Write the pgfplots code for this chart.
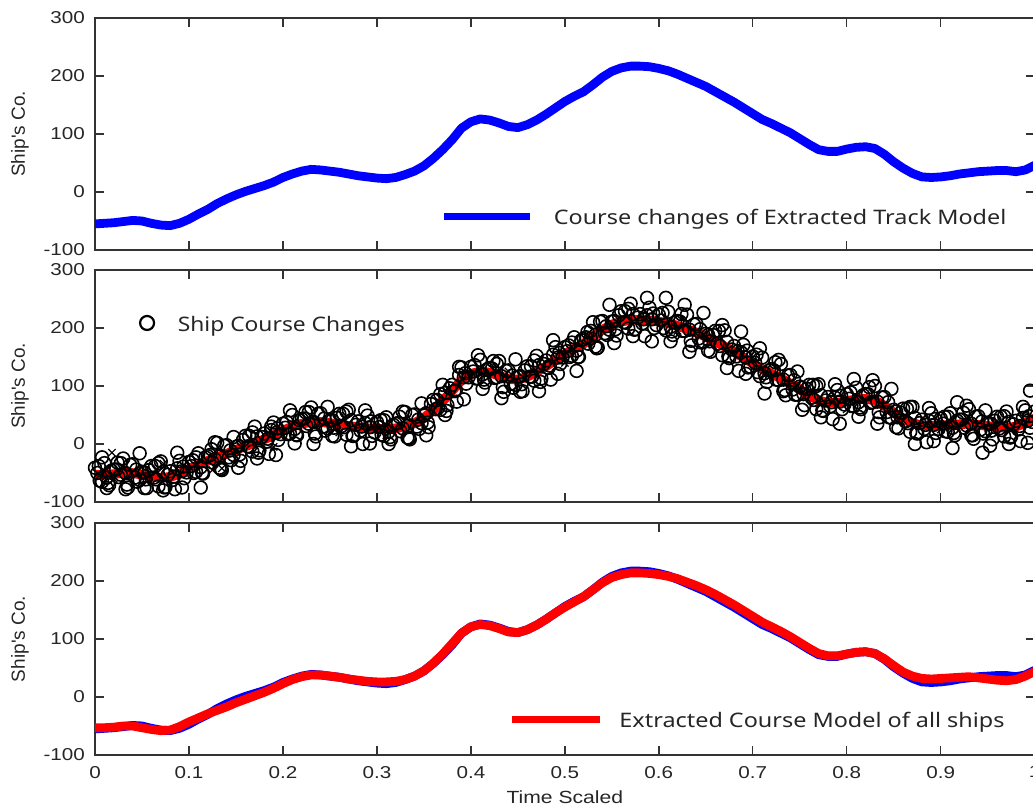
\documentclass[border=0pt]{standalone}
\usepackage{pgfplots}
\pgfplotsset{compat=1.18}
\usepackage{pgfplotstable}
\usepackage{graphicx}
\usepackage{fontspec}
\setmainfont{Liberation Sans}
\newfontfamily\legfont{Noto Sans}

\pgfplotstableread[row sep=\\]{
x y\\
0.00 -55\\ 0.01 -54\\ 0.02 -53\\ 0.03 -51\\ 0.04 -49\\ 0.05 -50\\ 0.06 -54\\ 0.07 -57\\ 0.08 -58\\ 0.09 -54\\
0.10 -47\\ 0.11 -38\\ 0.12 -30\\ 0.13 -20\\ 0.14 -12\\ 0.15 -5\\ 0.16 1\\ 0.17 6\\ 0.18 11\\ 0.19 17\\
0.20 25\\ 0.21 31\\ 0.22 36\\ 0.23 39\\ 0.24 38\\ 0.25 36\\ 0.26 34\\ 0.27 31\\ 0.28 28\\ 0.29 26\\
0.30 24\\ 0.31 23\\ 0.32 25\\ 0.33 30\\ 0.34 36\\ 0.35 45\\ 0.36 58\\ 0.37 73\\ 0.38 90\\ 0.39 110\\
0.40 121\\ 0.41 126\\ 0.42 124\\ 0.43 119\\ 0.44 113\\ 0.45 111\\ 0.46 116\\ 0.47 124\\ 0.48 134\\ 0.49 145\\
0.50 156\\ 0.51 165\\ 0.52 173\\ 0.53 185\\ 0.54 198\\ 0.55 208\\ 0.56 214\\ 0.57 217\\ 0.58 217\\ 0.59 216\\
0.60 213\\ 0.61 209\\ 0.62 203\\ 0.63 196\\ 0.64 189\\ 0.65 182\\ 0.66 173\\ 0.67 164\\ 0.68 155\\ 0.69 145\\
0.70 135\\ 0.71 125\\ 0.72 118\\ 0.73 110\\ 0.74 102\\ 0.75 92\\ 0.76 82\\ 0.77 73\\ 0.78 70\\ 0.79 70\\
0.80 74\\ 0.81 77\\ 0.82 78\\ 0.83 75\\ 0.84 65\\ 0.85 52\\ 0.86 41\\ 0.87 32\\ 0.88 26\\ 0.89 25\\
0.90 26\\ 0.91 28\\ 0.92 31\\ 0.93 33\\ 0.94 35\\ 0.95 36\\ 0.96 37\\ 0.97 37\\ 0.98 35\\ 0.99 38\\
1.00 46\\
}\bluedata

\pgfplotstableread[row sep=\\]{
x y\\
0.00 -53\\ 0.01 -53\\ 0.02 -52\\ 0.03 -50\\ 0.04 -50\\ 0.05 -53\\ 0.06 -56\\ 0.07 -58\\ 0.08 -57\\ 0.09 -51\\
0.10 -43\\ 0.11 -36\\ 0.12 -29\\ 0.13 -23\\ 0.14 -17\\ 0.15 -10\\ 0.16 -4\\ 0.17 2\\ 0.18 8\\ 0.19 15\\
0.20 23\\ 0.21 30\\ 0.22 35\\ 0.23 38\\ 0.24 38\\ 0.25 36\\ 0.26 34\\ 0.27 31\\ 0.28 29\\ 0.29 27\\
0.30 26\\ 0.31 26\\ 0.32 27\\ 0.33 30\\ 0.34 36\\ 0.35 45\\ 0.36 58\\ 0.37 74\\ 0.38 92\\ 0.39 110\\
0.40 121\\ 0.41 125\\ 0.42 123\\ 0.43 118\\ 0.44 112\\ 0.45 111\\ 0.46 116\\ 0.47 124\\ 0.48 134\\ 0.49 145\\
0.50 155\\ 0.51 164\\ 0.52 173\\ 0.53 185\\ 0.54 197\\ 0.55 206\\ 0.56 211\\ 0.57 214\\ 0.58 214\\ 0.59 213\\
0.60 211\\ 0.61 208\\ 0.62 204\\ 0.63 198\\ 0.64 192\\ 0.65 185\\ 0.66 177\\ 0.67 168\\ 0.68 159\\ 0.69 149\\
0.70 139\\ 0.71 129\\ 0.72 121\\ 0.73 113\\ 0.74 104\\ 0.75 94\\ 0.76 84\\ 0.77 75\\ 0.78 71\\ 0.79 71\\
0.80 74\\ 0.81 77\\ 0.82 78\\ 0.83 75\\ 0.84 66\\ 0.85 54\\ 0.86 43\\ 0.87 36\\ 0.88 32\\ 0.89 31\\
0.90 32\\ 0.91 33\\ 0.92 34\\ 0.93 35\\ 0.94 33\\ 0.95 31\\ 0.96 29\\ 0.97 28\\ 0.98 30\\ 0.99 36\\
1.00 44\\
}\reddata

\pgfplotsset{
  panel/.style={
    scale only axis, width=469.85pt, height=116pt,
    anchor=south west,
    xmin=0, xmax=1, ymin=-100, ymax=300,
    xtick={0,0.1,0.2,0.3,0.4,0.5,0.6,0.7,0.8,0.9,1},
    ytick={-100,0,100,200,300},
    tick align=inside, major tick length=4.5pt,
    every tick/.style={line width=0.7pt, black!80},
    axis line style={line width=0.75pt, black!80},
    /pgf/number format/assume math mode=true,
    yticklabel={\scalebox{1.2}[1]{\pgfmathprintnumber{\tick}}},
    yticklabel style={font=\fontsize{8.6}{10}\selectfont, text=black!85, xshift=-1.5pt},
    xticklabel style={font=\fontsize{8.6}{10}\selectfont, text=black!85, yshift=-2pt},
    ylabel={Ship\textquotesingle s Co.},
    every axis y label/.style={at={(axis description cs:-0.0798,0.5)}, rotate=90, anchor=center,
      font=\fontsize{9.5}{11}\selectfont, text=black!85},
    legend style={draw=none, fill=none, inner sep=0pt, outer sep=0pt,
      font=\fontsize{10}{12}\legfont, text=black!85},
    legend cell align=left,
    clip marker paths=false,
  },
  pts/.style={only marks, mark=o, mark size=3.2pt, mark options={line width=0.8pt, black}, forget plot},
}

\begin{document}
\begin{tikzpicture}
% ---------- panel 1
\begin{axis}[panel, at={(47.5pt,279pt)}, xticklabels={,,},
  legend style={at={(0.368,0.136)}, anchor=west},
  legend image code/.code={\draw[blue, line width=3.6pt] (0pt,1pt) -- (43pt,1pt); \path (50.5pt,1pt);}]
\addplot[blue, line width=4.4pt, line join=round] table[x=x,y=y] {\bluedata};
\addlegendentry{\scalebox{1.17}[1]{Course changes of Extracted Track Model}}
\end{axis}
% ---------- panel 2
\begin{axis}[panel, at={(47.5pt,153pt)}, xticklabels={,,},
  legend style={at={(0.0468,0.763)}, anchor=west},
  legend image code/.code={\draw[black, line width=1.1pt] (3.5pt,1pt) circle (3.5pt); \path (16.7pt,1pt);}]
\addplot[only marks, mark=o, mark size=3.2pt, mark options={line width=0.8pt, black}] coordinates {
(0,-41) (0.01,-33) (0.02,-44) (0.03,-25) (0.04,-35) (0.05,-48) (0.06,-38) (0.07,-30) (0.08,-47) (0.09,-29)
(0.10,-31) (0.11,-16) (0.12,-21) (0.13,2) (0.14,-2) (0.15,-5) (0.16,14) (0.17,30) (0.18,18) (0.19,37)
(0.20,35) (0.21,50) (0.22,43) (0.23,63) (0.24,53) (0.25,41) (0.26,52) (0.27,59) (0.28,39) (0.29,49)
(0.30,38) (0.31,46) (0.32,35) (0.33,55) (0.34,51) (0.35,50) (0.36,76) (0.37,102) (0.38,102) (0.39,132)
(0.40,133) (0.41,145) (0.42,131) (0.43,143) (0.44,127) (0.45,116) (0.46,134) (0.47,152) (0.48,144) (0.49,167)
(0.50,167) (0.51,184) (0.52,181) (0.53,210) (0.54,212) (0.55,211) (0.56,229) (0.57,242) (0.58,224) (0.59,235)
(0.60,223) (0.61,228) (0.62,212) (0.63,223) (0.64,207) (0.65,190) (0.66,195) (0.67,196) (0.68,169) (0.69,171)
(0.70,151) (0.71,149) (0.72,129) (0.73,138) (0.74,119) (0.75,99) (0.76,102) (0.77,103) (0.78,81) (0.79,93)
(0.80,86) (0.81,97) (0.82,86) (0.83,100) (0.84,81) (0.85,59) (0.86,61) (0.87,64) (0.88,42) (0.89,53)
(0.90,44) (0.91,53) (0.92,42) (0.93,60) (0.94,48) (0.95,36) (0.96,47) (0.97,56) (0.98,40) (0.99,58) (1.00,56)
};
\addlegendentry{\scalebox{1.14}[1]{Ship Course Changes}}
\addplot[pts] coordinates {
(0.005,-63) (0.015,-71) (0.025,-57) (0.035,-75) (0.045,-65) (0.055,-76) (0.065,-61) (0.075,-74) (0.085,-78) (0.095,-59)
(0.105,-50) (0.115,-51) (0.125,-32) (0.135,-45) (0.145,-28) (0.155,-29) (0.165,-5) (0.175,-11) (0.185,-17) (0.195,7)
(0.205,17) (0.215,15) (0.225,31) (0.235,13) (0.245,23) (0.255,13) (0.265,29) (0.275,14) (0.285,0) (0.295,14)
(0.305,16) (0.315,8) (0.325,22) (0.335,8) (0.345,26) (0.355,29) (0.365,62) (0.375,67) (0.385,73) (0.395,104)
(0.405,113) (0.415,106) (0.425,114) (0.435,90) (0.445,97) (0.455,91) (0.465,116) (0.475,113) (0.485,111) (0.495,138)
(0.505,150) (0.515,150) (0.525,173) (0.535,166) (0.545,188) (0.555,187) (0.565,209) (0.575,198) (0.585,186) (0.595,200)
(0.605,200) (0.615,188) (0.625,195) (0.635,170) (0.645,175) (0.655,159) (0.665,169) (0.675,148) (0.685,126) (0.695,132)
(0.705,124) (0.715,107) (0.725,111) (0.735,84) (0.745,85) (0.755,67) (0.765,76) (0.775,57) (0.785,43) (0.795,60)
(0.805,66) (0.815,60) (0.825,71) (0.835,46) (0.845,46) (0.855,27) (0.865,36) (0.875,18) (0.885,3) (0.895,19)
(0.905,22) (0.915,15) (0.925,28) (0.935,9) (0.945,18) (0.955,8) (0.965,24) (0.975,13) (0.985,5) (0.995,28)
};
\addplot[pts] coordinates {
(0.0025,-50) (0.0125,-58) (0.0225,-44) (0.0325,-50) (0.0425,-58) (0.0525,-49) (0.0625,-58) (0.0725,-48) (0.0825,-62) (0.0925,-47)
(0.1025,-38) (0.1125,-40) (0.1225,-19) (0.1325,-21) (0.1425,-23) (0.1525,-3) (0.1625,-4) (0.1725,13) (0.1825,4) (0.1925,19)
(0.2025,28) (0.2125,26) (0.2225,44) (0.2325,38) (0.2425,30) (0.2525,41) (0.2625,31) (0.2725,41) (0.2825,23) (0.2925,29)
(0.3025,29) (0.3125,21) (0.3225,36) (0.3325,31) (0.3425,30) (0.3525,53) (0.3625,60) (0.3725,88) (0.3825,91) (0.3925,115)
(0.4025,125) (0.4125,120) (0.4225,130) (0.4325,117) (0.4425,104) (0.4525,117) (0.4625,116) (0.4725,136) (0.4825,131) (0.4925,149)
(0.5025,160) (0.5125,161) (0.5225,184) (0.5325,188) (0.5425,191) (0.5525,212) (0.5625,210) (0.5725,224) (0.5825,208) (0.5925,215)
(0.6025,213) (0.6125,202) (0.6225,211) (0.6325,197) (0.6425,182) (0.6525,188) (0.6625,173) (0.6725,176) (0.6825,151) (0.6925,149)
(0.7025,140) (0.7125,122) (0.7225,127) (0.7325,111) (0.7425,94) (0.7525,97) (0.7625,80) (0.7725,84) (0.7825,65) (0.7925,73)
(0.8025,78) (0.8125,72) (0.8225,86) (0.8325,73) (0.8425,55) (0.8525,56) (0.8625,39) (0.8725,45) (0.8825,26) (0.8925,33)
(0.9025,35) (0.9125,28) (0.9225,42) (0.9325,35) (0.9425,25) (0.9525,35) (0.9625,27) (0.9725,38) (0.9825,25) (0.9925,40)
};
\addplot[pts] coordinates {
(0.0075,-65) (0.0175,-46) (0.0275,-53) (0.0375,-36) (0.0475,-62) (0.0575,-45) (0.0675,-73) (0.0775,-53) (0.0875,-42) (0.0975,-49)
(0.1075,-48) (0.1175,-23) (0.1275,-26) (0.1375,-3) (0.1475,-19) (0.1575,7) (0.1675,-13) (0.1775,12) (0.1875,24) (0.1975,17)
(0.2075,18) (0.2175,41) (0.2275,35) (0.2375,52) (0.2475,27) (0.2575,45) (0.2675,16) (0.2775,33) (0.2875,36) (0.2975,20)
(0.3075,14) (0.3175,33) (0.3275,27) (0.3375,50) (0.3475,36) (0.3575,69) (0.3675,59) (0.3775,96) (0.3875,119) (0.3975,115)
(0.4075,113) (0.4175,129) (0.4275,115) (0.4375,126) (0.4475,102) (0.4575,127) (0.4675,109) (0.4775,138) (0.4875,154) (0.4975,149)
(0.5075,152) (0.5175,179) (0.5275,182) (0.5375,211) (0.5475,197) (0.5575,222) (0.5675,199) (0.5775,218) (0.5875,222) (0.5975,205)
(0.6075,196) (0.6175,210) (0.6275,195) (0.6375,206) (0.6475,176) (0.6575,188) (0.6675,153) (0.6775,163) (0.6875,158) (0.6975,133)
(0.7075,117) (0.7175,127) (0.7275,110) (0.7375,118) (0.7475,85) (0.7575,95) (0.7675,60) (0.7775,75) (0.7875,80) (0.7975,68)
(0.8075,65) (0.8175,84) (0.8275,72) (0.8375,80) (0.8475,45) (0.8575,54) (0.8675,21) (0.8775,36) (0.8875,40) (0.8975,26)
(0.9075,21) (0.9175,40) (0.9275,32) (0.9375,47) (0.9475,22) (0.9575,40) (0.9675,13) (0.9775,34) (0.9875,45) (0.9975,38)
};
\addplot[pts] coordinates {
(0.004,-38) (0.014,-67) (0.024,-32) (0.034,-70) (0.044,-44) (0.054,-61) (0.064,-38) (0.074,-75) (0.084,-56) (0.094,-39)
(0.104,-28) (0.114,-50) (0.124,-9) (0.134,-43) (0.144,-11) (0.154,-18) (0.164,14) (0.174,-15) (0.184,9) (0.194,27)
(0.204,38) (0.214,16) (0.224,55) (0.234,18) (0.244,44) (0.254,28) (0.264,52) (0.274,14) (0.284,30) (0.294,39)
(0.304,41) (0.314,12) (0.324,47) (0.334,10) (0.344,42) (0.354,37) (0.364,76) (0.374,57) (0.384,93) (0.394,122)
(0.404,136) (0.414,111) (0.424,143) (0.434,98) (0.444,118) (0.454,103) (0.464,134) (0.474,107) (0.484,135) (0.494,157)
(0.504,170) (0.514,150) (0.524,193) (0.534,165) (0.544,203) (0.554,198) (0.564,229) (0.574,197) (0.584,215) (0.594,225)
(0.604,226) (0.614,194) (0.624,224) (0.634,178) (0.644,198) (0.654,177) (0.664,195) (0.674,151) (0.684,160) (0.694,161)
(0.704,154) (0.714,115) (0.724,141) (0.734,93) (0.744,110) (0.754,86) (0.764,102) (0.774,58) (0.784,72) (0.794,83)
(0.804,89) (0.814,63) (0.824,98) (0.834,55) (0.844,72) (0.854,46) (0.864,61) (0.874,19) (0.884,33) (0.894,43)
(0.904,47) (0.914,19) (0.924,54) (0.934,15) (0.944,39) (0.954,23) (0.964,47) (0.974,11) (0.984,31) (0.994,48)
};
\addplot[pts] coordinates {
(0.0075,-23) (0.0275,-33) (0.0475,-16) (0.0675,-33) (0.0875,-15) (0.1075,-23) (0.1275,3) (0.1475,12) (0.1675,20) (0.1875,30)
(0.2075,58) (0.2275,55) (0.2475,64) (0.2675,56) (0.2875,58) (0.3075,41) (0.3275,56) (0.3475,70) (0.3675,86) (0.3875,133)
(0.4075,153) (0.4275,138) (0.4475,146) (0.4675,144) (0.4875,179) (0.5075,175) (0.5275,195) (0.5475,240) (0.5675,233) (0.5875,252)
(0.6075,252) (0.6275,240) (0.6475,226) (0.6675,205) (0.6875,194) (0.7075,165) (0.7275,145) (0.7475,125) (0.7675,100) (0.7875,103)
(0.8075,112) (0.8275,110) (0.8475,95) (0.8675,64) (0.8875,62) (0.9075,47) (0.9175,72) (0.9275,66) (0.9475,58) (0.9675,48)
(0.9875,64) (0.995,92)
};
\addplot[pts] coordinates {
(0.0125,-76) (0.0325,-78) (0.0525,-76) (0.0725,-80) (0.0925,-75) (0.1125,-75) (0.1325,-41) (0.1525,-41) (0.1725,-25) (0.1925,-19)
(0.2125,1) (0.2325,0) (0.2525,14) (0.2725,-4) (0.2925,1) (0.3125,0) (0.3325,11) (0.3525,15) (0.3725,50) (0.3925,77)
(0.4125,95) (0.4325,79) (0.4525,90) (0.4725,91) (0.4925,121) (0.5125,126) (0.5325,168) (0.5525,174) (0.5725,186) (0.5925,177)
(0.6125,177) (0.6325,159) (0.6525,161) (0.6725,131) (0.6925,121) (0.7125,87) (0.7325,91) (0.7525,59) (0.7725,46) (0.7925,35)
(0.8125,47) (0.8325,35) (0.8525,29) (0.8725,0) (0.8925,5) (0.9125,-7) (0.9325,15) (0.9445,-15) (0.9525,-3) (0.9725,0) (0.9925,2)
};
\addplot[only marks, mark=x, mark size=2.6pt, mark options={line width=0.6pt, black}, forget plot] coordinates {
(0.018,-15) (0.02,-60) (0.05,-40) (0.073,-34) (0.125,-45) (0.135,-42) (0.19,-5) (0.26,20) (0.31,15) (0.44,125)
(0.5,140) (0.62,195) (0.7,150) (0.76,90) (0.8,60) (0.86,40) (0.9,25) (0.96,40)
};
\addplot[red, line width=4.8pt, line join=round, forget plot] table[x=x,y=y] {\reddata};
\end{axis}
% ---------- panel 3
\begin{axis}[panel, at={(47.5pt,26.5pt)},
  xticklabel={\scalebox{1.2}[1]{\pgfmathprintnumber[fixed,precision=1]{\tick}}},
  xlabel={\scalebox{1.2}[1]{Time Scaled}},
  xlabel style={at={(axis description cs:0.5,0)}, yshift=-21pt, anchor=center,
    font=\fontsize{8.8}{10}\selectfont, text=black!85},
  legend style={at={(0.440,0.146)}, anchor=west},
  legend image code/.code={\draw[red, line width=3.6pt] (0pt,1pt) -- (44pt,1pt); \path (49.5pt,1pt);}]
\addplot[blue, line width=4.4pt, line join=round, forget plot] table[x=x,y=y] {\bluedata};
\addplot[red, line width=4.4pt, line join=round] table[x=x,y=y] {\reddata};
\addlegendentry{\scalebox{1.17}[1]{Extracted Course Model of all ships}}
\end{axis}
\pgfresetboundingbox
\path[use as bounding box] (0,0) rectangle (516.5pt,404pt);
\end{tikzpicture}
\end{document}
